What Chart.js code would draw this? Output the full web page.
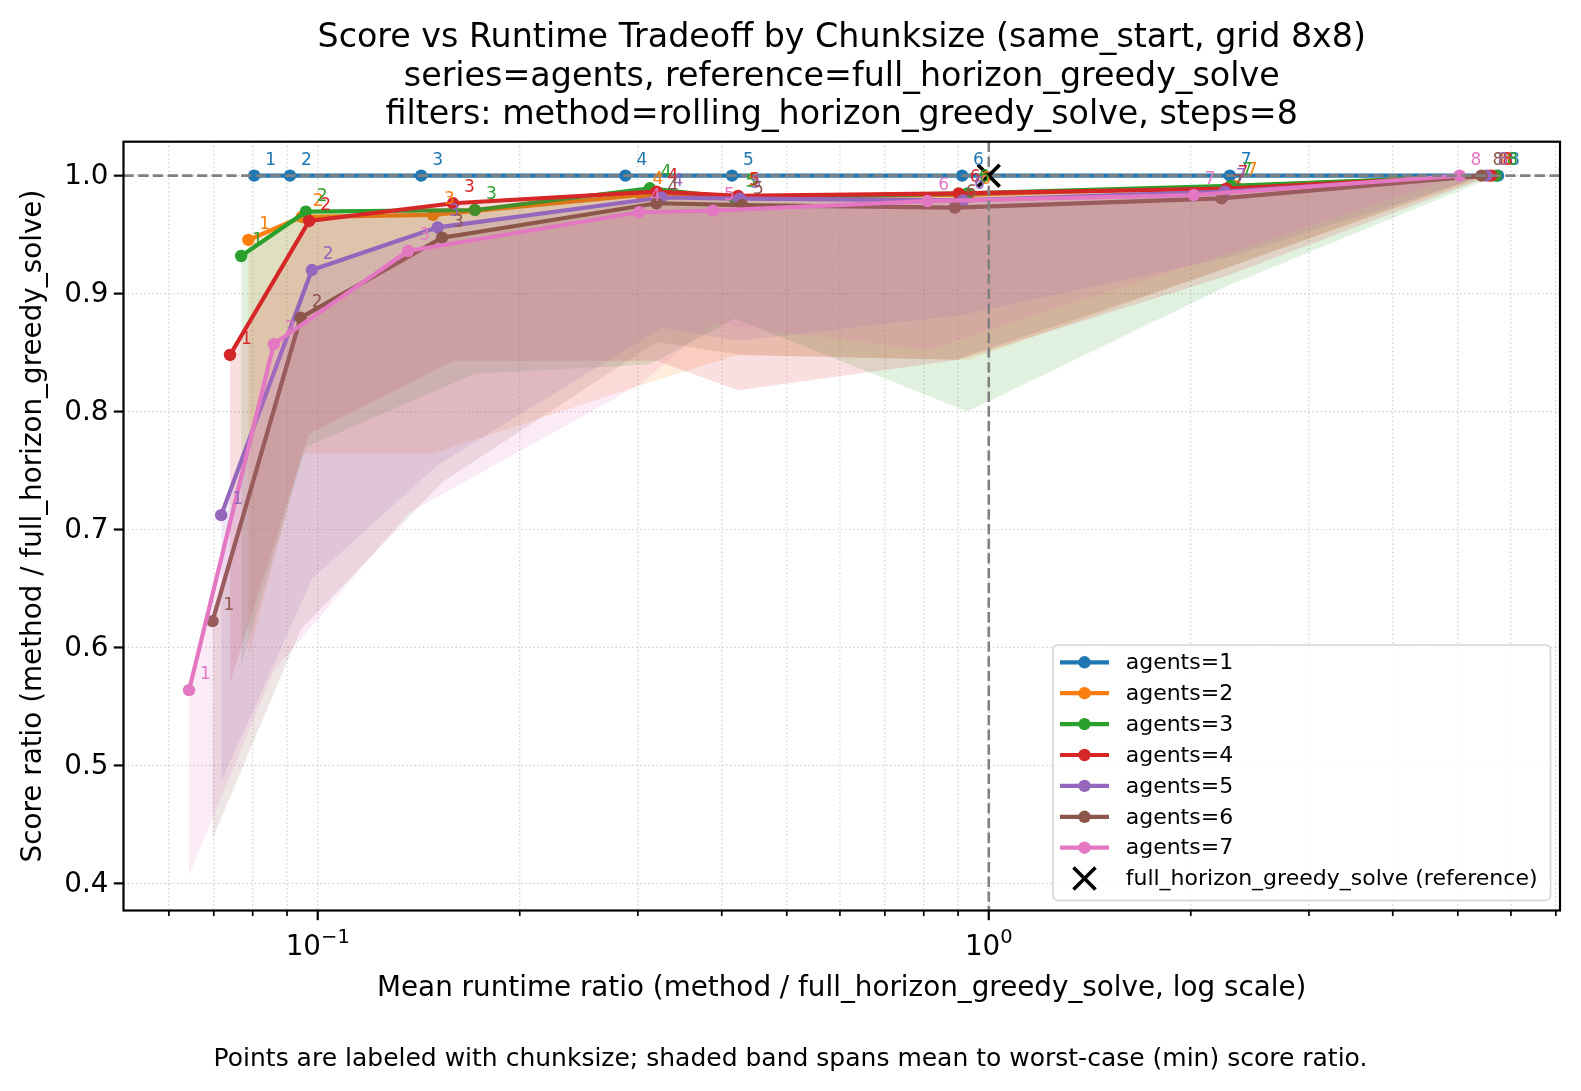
<!DOCTYPE html>
<html>
<head>
<meta charset="utf-8">
<script src="https://cdn.jsdelivr.net/npm/chart.js@4.4.1/dist/chart.umd.min.js"></script>
<style>
  html, body { margin: 0; padding: 0; background: #fff; }
  canvas { display: block; }
</style>
</head>
<body>
<canvas id="myChart" width="1581" height="1091"></canvas>
<script>
// chunksize labels for the 8 points of every series
const chunkSizes = [1, 2, 3, 4, 5, 6, 7, 8];
const agentCounts = [1, 2, 3, 4, 5, 6, 7];
const seriesColors = ['#1f77b4', '#ff7f0e', '#2ca02c', '#d62728', '#9467bd', '#8c564b', '#e377c2'];

// x = mean runtime ratio, score = mean score ratio, worst = min score ratio
const runtimeAgents1 = [0.0804, 0.0909, 0.1426, 0.2874, 0.4144, 0.9125, 2.287, 5.74];
const scoreAgents1   = [1, 1, 1, 1, 1, 1, 1, 1];
const worstAgents1   = [1, 1, 1, 1, 1, 1, 1, 1];

const runtimeAgents2 = [0.0788, 0.0947, 0.1485, 0.3037, 0.421, 0.934, 2.334, 5.56];
const scoreAgents2   = [0.9455, 0.965, 0.9667, 0.9836, 0.982, 0.984, 0.991, 1.0];
const worstAgents2   = [0.592, 0.7645, 0.7645, 0.8225, 0.848, 0.844, 0.925, 1.0];

const runtimeAgents3 = [0.0769, 0.0960, 0.1715, 0.3125, 0.418, 0.930, 2.295, 5.70];
const scoreAgents3   = [0.9319, 0.9695, 0.9709, 0.9893, 0.981, 0.985, 0.9913, 1.0];
const worstAgents3   = [0.585, 0.77, 0.832, 0.84, 0.879, 0.80, 0.908, 1.0];

const runtimeAgents4 = [0.0740, 0.0971, 0.1591, 0.3198, 0.4232, 0.902, 2.26, 5.61];
const scoreAgents4   = [0.848, 0.9616, 0.9766, 0.9864, 0.9828, 0.985, 0.989, 1.0];
const worstAgents4   = [0.57, 0.781, 0.843, 0.843, 0.818, 0.844, 0.915, 1.0];

const runtimeAgents5 = [0.0718, 0.0980, 0.1509, 0.3252, 0.4256, 0.915, 2.247, 5.516];
const scoreAgents5   = [0.7122, 0.92, 0.9562, 0.9815, 0.9805, 0.979, 0.9864, 1.0];
const worstAgents5   = [0.486, 0.658, 0.7546, 0.871, 0.86, 0.882, 0.93, 1.0];

const runtimeAgents6 = [0.0697, 0.0943, 0.1532, 0.3198, 0.4289, 0.890, 2.222, 5.424];
const scoreAgents6   = [0.6223, 0.8796, 0.9474, 0.9766, 0.9751, 0.9729, 0.9808, 1.0];
const worstAgents6   = [0.438, 0.615, 0.74, 0.859, 0.848, 0.844, 0.92, 1.0];

const runtimeAgents7 = [0.0643, 0.0860, 0.1363, 0.3012, 0.3882, 0.810, 2.021, 5.03];
const scoreAgents7   = [0.5638, 0.8572, 0.9361, 0.969, 0.9703, 0.9785, 0.9836, 1.0];
const worstAgents7   = [0.407, 0.58, 0.7137, 0.8225, 0.875, 0.852, 0.925, 1.0];

// reference method sits at (1, 1)
const refRuntime = 1.0;
const refScore = 1.0;

const yTicks = [0.4, 0.5, 0.6, 0.7, 0.8, 0.9, 1.0];
const xMajorTicks = [0.1, 1];
const xMajorLabels = [['10', '\u22121'], ['10', '0']];
const xMinorTicks = [0.06, 0.07, 0.08, 0.09, 0.2, 0.3, 0.4, 0.5, 0.6, 0.7, 0.8, 0.9, 2, 3, 4, 5, 6, 7];

const titleLines = [
    'Score vs Runtime Tradeoff by Chunksize (same_start, grid 8x8)',
    'series=agents, reference=full_horizon_greedy_solve',
    'filters: method=rolling_horizon_greedy_solve, steps=8'
];
const xTitle = 'Mean runtime ratio (method / full_horizon_greedy_solve, log scale)';
const yTitle = 'Score ratio (method / full_horizon_greedy_solve)';
const footNote = 'Points are labeled with chunksize; shaded band spans mean to worst-case (min) score ratio.';
const refLabel = 'full_horizon_greedy_solve (reference)';

const runtimes = [runtimeAgents1, runtimeAgents2, runtimeAgents3, runtimeAgents4, runtimeAgents5, runtimeAgents6, runtimeAgents7];
const scores = [scoreAgents1, scoreAgents2, scoreAgents3, scoreAgents4, scoreAgents5, scoreAgents6, scoreAgents7];
const worsts = [worstAgents1, worstAgents2, worstAgents3, worstAgents4, worstAgents5, worstAgents6, worstAgents7];

function hexA(hex, a) {
    const n = parseInt(hex.slice(1), 16);
    return `rgba(${(n >> 16) & 255}, ${(n >> 8) & 255}, ${n & 255}, ${a})`;
}

const datasets = [];
let lastLineIndex = 0;
agentCounts.forEach((agents, i) => {
    const col = seriesColors[i];
    lastLineIndex = datasets.length;
    datasets.push({
        label: 'agents=' + agents,
        data: runtimes[i].map((x, k) => ({ x: x, y: scores[i][k] })),
        borderColor: col,
        backgroundColor: hexA(col, 0.15),
        borderWidth: 4.2,
        pointRadius: 6.2,
        pointBackgroundColor: col,
        pointBorderWidth: 0,
        tension: 0,
        fill: '+1',
        order: 20 - i
    });
    datasets.push({
        label: 'min ' + agents,
        data: runtimes[i].map((x, k) => ({ x: x, y: worsts[i][k] })),
        borderColor: 'rgba(0,0,0,0)',
        borderWidth: 0,
        pointRadius: 0,
        tension: 0,
        fill: false,
        order: 100
    });
});
datasets.push({
    label: refLabel,
    data: [{ x: refRuntime, y: refScore }],
    showLine: false,
    pointStyle: 'crossRot',
    pointRadius: 15.5,
    pointBorderWidth: 3.6,
    pointBorderColor: '#000',
    pointBackgroundColor: '#000',
    order: 0
});

const FONT = "'DejaVu Sans', sans-serif";
Chart.defaults.font.family = FONT;

const decor = {
    id: 'decor',
    beforeDraw(chart) {
        const { ctx, chartArea: a, scales: { x, y } } = chart;
        ctx.save();
        ctx.fillStyle = '#fff';
        ctx.fillRect(0, 0, chart.width, chart.height);
        ctx.strokeStyle = 'rgba(170,170,170,0.55)';
        ctx.lineWidth = 1.2;
        ctx.setLineDash([1.5, 2.6]);
        xMajorTicks.concat(xMinorTicks).forEach(v => {
            const px = x.getPixelForValue(v);
            ctx.beginPath(); ctx.moveTo(px, a.top); ctx.lineTo(px, a.bottom); ctx.stroke();
        });
        yTicks.forEach(v => {
            const py = y.getPixelForValue(v);
            ctx.beginPath(); ctx.moveTo(a.left, py); ctx.lineTo(a.right, py); ctx.stroke();
        });
        ctx.restore();
    },
    afterDatasetDraw(chart, args) {
        if (args.index !== lastLineIndex) return;
        const { ctx, chartArea: a, scales: { x, y } } = chart;
        ctx.save();
        ctx.beginPath(); ctx.rect(a.left, a.top, a.right - a.left, a.bottom - a.top); ctx.clip();
        ctx.strokeStyle = '#808080';
        ctx.lineWidth = 2.6;
        ctx.setLineDash([10.3, 4.4]);
        const py = y.getPixelForValue(refScore);
        ctx.beginPath(); ctx.moveTo(a.left, py); ctx.lineTo(a.right, py); ctx.stroke();
        const px = x.getPixelForValue(refRuntime);
        ctx.beginPath(); ctx.moveTo(px, a.top); ctx.lineTo(px, a.bottom); ctx.stroke();
        ctx.restore();
    },
    afterDatasetsDraw(chart) {
        const { ctx, scales: { x, y } } = chart;
        ctx.save();
        ctx.font = '17px ' + FONT;
        ctx.textAlign = 'left';
        ctx.textBaseline = 'alphabetic';
        agentCounts.forEach((agents, i) => {
            ctx.fillStyle = seriesColors[i];
            runtimes[i].forEach((v, k) => {
                const px = x.getPixelForValue(v);
                const py = y.getPixelForValue(scores[i][k]);
                ctx.fillText(String(chunkSizes[k]), px + 11, py - 11);
            });
        });
        ctx.restore();
    },
    afterDraw(chart) {
        const { ctx, chartArea: a, scales: { x, y } } = chart;
        ctx.save();
        // spines
        ctx.strokeStyle = '#000';
        ctx.lineWidth = 2.2;
        ctx.strokeRect(a.left, a.top, a.right - a.left, a.bottom - a.top);
        // y ticks
        ctx.fillStyle = '#000';
        ctx.font = '27.8px ' + FONT;
        ctx.textAlign = 'right';
        ctx.textBaseline = 'middle';
        yTicks.forEach(v => {
            const py = y.getPixelForValue(v);
            ctx.beginPath(); ctx.moveTo(a.left, py); ctx.lineTo(a.left - 9.7, py); ctx.stroke();
            ctx.fillText(v.toFixed(1), a.left - 15, py + 1);
        });
        // x minor ticks
        ctx.lineWidth = 1.7;
        xMinorTicks.forEach(v => {
            const px = x.getPixelForValue(v);
            ctx.beginPath(); ctx.moveTo(px, a.bottom); ctx.lineTo(px, a.bottom + 5.6); ctx.stroke();
        });
        // x major ticks with 10^n labels
        ctx.lineWidth = 2.2;
        xMajorTicks.forEach((v, k) => {
            const px = x.getPixelForValue(v);
            ctx.beginPath(); ctx.moveTo(px, a.bottom); ctx.lineTo(px, a.bottom + 9.7); ctx.stroke();
            const [base, expo] = xMajorLabels[k];
            ctx.font = '27.8px ' + FONT;
            const wb = ctx.measureText(base).width;
            ctx.font = '19.5px ' + FONT;
            const we = ctx.measureText(expo).width;
            const left = px - (wb + we) / 2;
            ctx.textAlign = 'left';
            ctx.textBaseline = 'alphabetic';
            ctx.font = '27.8px ' + FONT;
            ctx.fillText(base, left, 955);
            ctx.font = '19.5px ' + FONT;
            ctx.fillText(expo, left + wb, 943);
        });
        // axis titles
        ctx.font = '27.8px ' + FONT;
        ctx.textAlign = 'center';
        ctx.textBaseline = 'middle';
        ctx.fillText(xTitle, (a.left + a.right) / 2, 989);
        ctx.save();
        ctx.translate(33.5, (a.top + a.bottom) / 2);
        ctx.rotate(-Math.PI / 2);
        ctx.fillText(yTitle, 0, 0);
        ctx.restore();
        // title
        ctx.font = '33.3px ' + FONT;
        const titleY = [38.5, 77, 115.5];
        titleLines.forEach((t, k) => ctx.fillText(t, (a.left + a.right) / 2, titleY[k]));
        // footnote
        ctx.font = '25px ' + FONT;
        ctx.fillText(footNote, chart.width / 2, 1059);
        // legend
        const L = 1053, T = 645, R = 1550.5, B = 900.5;
        ctx.beginPath();
        ctx.roundRect(L, T, R - L, B - T, 5);
        ctx.fillStyle = 'rgba(255,255,255,0.85)';
        ctx.fill();
        ctx.strokeStyle = '#d4d4d4';
        ctx.lineWidth = 1.6;
        ctx.stroke();
        ctx.font = '22px ' + FONT;
        ctx.textAlign = 'left';
        ctx.textBaseline = 'middle';
        agentCounts.forEach((agents, i) => {
            const ry = 662.3 + 30.9 * i;
            ctx.strokeStyle = seriesColors[i];
            ctx.lineWidth = 4.2;
            ctx.beginPath(); ctx.moveTo(1060, ry); ctx.lineTo(1109, ry); ctx.stroke();
            ctx.fillStyle = seriesColors[i];
            ctx.beginPath(); ctx.arc(1084.5, ry, 6.2, 0, Math.PI * 2); ctx.fill();
            ctx.fillStyle = '#000';
            ctx.fillText('agents=' + agents, 1125.7, ry + 1);
        });
        const ry = 662.3 + 30.9 * 7;
        ctx.strokeStyle = '#000';
        ctx.lineWidth = 3.6;
        ctx.beginPath();
        ctx.moveTo(1073.5, ry - 11); ctx.lineTo(1095.5, ry + 11);
        ctx.moveTo(1073.5, ry + 11); ctx.lineTo(1095.5, ry - 11);
        ctx.stroke();
        ctx.fillText(refLabel, 1125.7, ry + 1);
        ctx.restore();
    }
};

const ctx = document.getElementById('myChart').getContext('2d');
const myChart = new Chart(ctx, {
    type: 'line',
    data: { datasets: datasets },
    options: {
        responsive: false,
        devicePixelRatio: 1,
        animation: false,
        events: [],
        layout: { padding: { left: 0, top: 141.7, right: 21, bottom: 0 } },
        plugins: {
            legend: { display: false },
            title: { display: false },
            tooltip: { enabled: false }
        },
        scales: {
            x: {
                type: 'logarithmic',
                min: 0.05135,
                max: 7.10,
                bounds: 'data',
                ticks: { display: false },
                grid: { display: false },
                border: { display: false },
                afterFit: s => { s.height = 180.5; }
            },
            y: {
                type: 'linear',
                min: 0.377,
                max: 1.0288,
                bounds: 'data',
                ticks: { display: false },
                grid: { display: false },
                border: { display: false },
                afterFit: s => { s.width = 123.5; }
            }
        }
    },
    plugins: [decor]
});
</script>
</body>
</html>
